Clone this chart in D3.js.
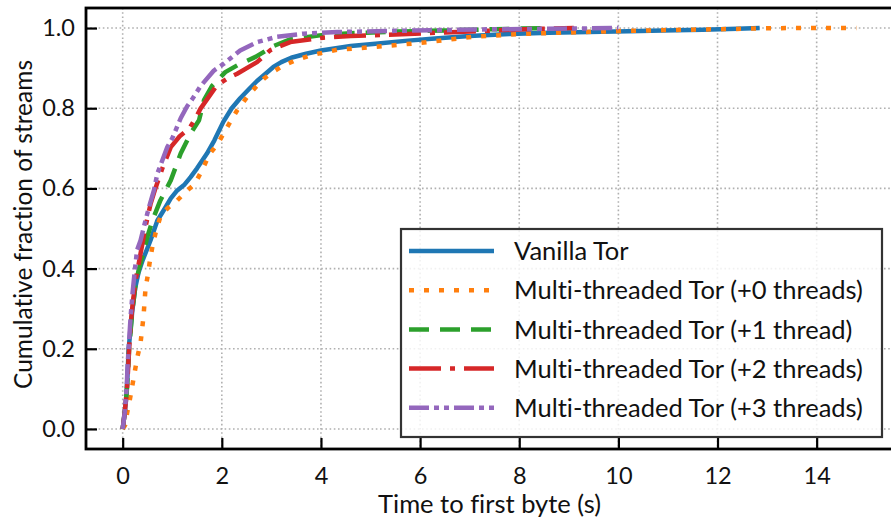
<!DOCTYPE html>
<html>
<head>
<meta charset="utf-8">
<script src="https://cdn.jsdelivr.net/npm/d3@7.8.5/dist/d3.min.js"></script>
<style>
    body { margin: 0; background: #fff; }
    svg text {
        font-family: "Lato", "Noto Sans", sans-serif;
        fill: #111;
        font-variant-ligatures: none;
        font-feature-settings: "liga" 0, "clig" 0;
    }
</style>
</head>
<body>
<div id="chart"></div>
<script>
// Values, [time (s), cumulative fraction]
const vanillaTor = [
    [0, 0], [0.04, 0.04], [0.075, 0.08], [0.1, 0.14], [0.12, 0.2], [0.16, 0.25], [0.19, 0.29],
    [0.25, 0.35], [0.32, 0.39], [0.4, 0.42], [0.48, 0.445], [0.56, 0.47], [0.7, 0.52],
    [0.85, 0.55], [0.97, 0.575], [1.1, 0.595], [1.25, 0.61], [1.37, 0.628], [1.5, 0.65],
    [1.7, 0.687], [1.85, 0.72], [2.03, 0.766], [2.2, 0.8], [2.37, 0.825], [2.55, 0.848],
    [2.71, 0.868], [2.9, 0.888], [3.04, 0.903], [3.2, 0.915], [3.4, 0.926], [3.7, 0.936],
    [4.0, 0.944], [4.6, 0.955], [5.1, 0.961], [5.7, 0.968], [6.3, 0.974], [7.0, 0.98],
    [7.8, 0.985], [8.6, 0.988], [9.4, 0.99], [10.2, 0.992], [10.9, 0.994], [11.7, 0.996],
    [12.4, 0.998], [12.85, 1.0]
];
const mtTor0 = [
    [0, 0], [0.05, 0.01], [0.09, 0.04], [0.14, 0.07], [0.19, 0.105], [0.24, 0.14], [0.29, 0.176],
    [0.36, 0.214], [0.42, 0.28], [0.46, 0.35], [0.51, 0.386], [0.55, 0.42], [0.6, 0.455],
    [0.66, 0.487], [0.76, 0.529], [0.9, 0.55], [1.1, 0.57], [1.3, 0.595], [1.45, 0.61],
    [1.6, 0.645], [1.75, 0.685], [1.91, 0.71], [2.05, 0.74], [2.17, 0.766], [2.31, 0.795],
    [2.51, 0.828], [2.7, 0.855], [2.85, 0.874], [3.05, 0.892], [3.25, 0.907], [3.5, 0.92],
    [3.79, 0.932], [4.33, 0.946], [5.1, 0.953], [6.0, 0.963], [7.05, 0.978], [8.0, 0.985],
    [9.0, 0.989], [9.9, 0.992], [11.0, 0.995], [12.0, 0.997], [12.85, 0.999], [13.5, 1.0],
    [14.8, 1.0]
];
const mtTor1 = [
    [0, 0], [0.04, 0.04], [0.08, 0.09], [0.11, 0.15], [0.13, 0.2], [0.17, 0.26], [0.2, 0.3],
    [0.26, 0.36], [0.33, 0.4], [0.42, 0.44], [0.5, 0.48], [0.6, 0.52], [0.76, 0.57],
    [0.97, 0.62], [1.17, 0.687], [1.37, 0.737], [1.54, 0.77], [1.64, 0.82], [1.8, 0.855],
    [2.07, 0.89], [2.31, 0.907], [2.68, 0.928], [3.04, 0.955], [3.38, 0.972], [4.05, 0.983],
    [4.6, 0.987], [5.5, 0.991], [6.5, 0.994], [7.5, 0.997], [8.5, 1.0]
];
const mtTor2 = [
    [0, 0], [0.04, 0.04], [0.08, 0.09], [0.11, 0.15], [0.13, 0.2], [0.16, 0.26], [0.2, 0.31],
    [0.26, 0.37], [0.36, 0.437], [0.46, 0.504], [0.56, 0.56], [0.66, 0.6], [0.8, 0.65],
    [0.97, 0.703], [1.15, 0.73], [1.34, 0.749], [1.47, 0.775], [1.57, 0.799], [1.9, 0.857],
    [2.11, 0.874], [2.31, 0.886], [2.71, 0.915], [2.98, 0.945], [3.38, 0.965], [4.05, 0.976],
    [4.6, 0.98], [5.5, 0.984], [6.5, 0.989], [7.5, 0.994], [8.3, 0.998], [9.1, 1.0]
];
const mtTor3 = [
    [0, 0], [0.04, 0.04], [0.08, 0.1], [0.1, 0.16], [0.13, 0.22], [0.16, 0.28], [0.2, 0.34],
    [0.24, 0.39], [0.29, 0.446], [0.36, 0.47], [0.45, 0.515], [0.53, 0.553], [0.63, 0.595],
    [0.7, 0.637], [0.9, 0.703], [1.0, 0.725], [1.17, 0.775], [1.3, 0.805], [1.4, 0.822],
    [1.57, 0.855], [1.84, 0.894], [2.04, 0.911], [2.37, 0.944], [2.71, 0.965], [3.11, 0.978],
    [3.65, 0.986], [4.33, 0.99], [5.5, 0.993], [6.5, 0.995], [7.5, 0.997], [8.5, 0.998],
    [9.3, 0.999], [10.0, 1.0]
];

const seriesNames = [
    "Vanilla Tor",
    "Multi-threaded Tor (+0 threads)",
    "Multi-threaded Tor (+1 thread)",
    "Multi-threaded Tor (+2 threads)",
    "Multi-threaded Tor (+3 threads)"
];
const xTicks = [0, 2, 4, 6, 8, 10, 12, 14];
const yTicks = [0, 0.2, 0.4, 0.6, 0.8, 1.0];

// Styles for each series (same order as the names)
const seriesData = [vanillaTor, mtTor0, mtTor1, mtTor2, mtTor3];
const colors = ["#1f77b4", "#ff7f0e", "#2ca02c", "#d62728", "#9467bd"];
const dashes = [null, "5,10", "20,11", "32,9,5,9", "20,5,5,5,5,5"];

const width = 891, height = 524;
const plot = { left: 86, right: 893, top: 8, bottom: 449 };

const svg = d3.select("#chart").append("svg")
    .attr("width", width)
    .attr("height", height);

const x = d3.scaleLinear().domain([-0.74, 15.54]).range([plot.left, plot.right]);
const y = d3.scaleLinear().domain([-0.05, 1.05]).range([plot.bottom, plot.top]);

svg.append("clipPath").attr("id", "plot-clip")
    .append("rect")
    .attr("x", plot.left).attr("y", plot.top)
    .attr("width", plot.right - plot.left).attr("height", plot.bottom - plot.top);

// Dotted grid
const grid = svg.append("g").attr("class", "grid");
grid.selectAll(".gx").data(xTicks).enter().append("line")
    .attr("x1", d => x(d)).attr("x2", d => x(d))
    .attr("y1", plot.top).attr("y2", plot.bottom)
    .attr("stroke", "#b0b0b0").attr("stroke-width", 1.6).attr("stroke-dasharray", "1.6,2.6");
grid.selectAll(".gy").data(yTicks).enter().append("line")
    .attr("x1", plot.left).attr("x2", plot.right)
    .attr("y1", d => y(d)).attr("y2", d => y(d))
    .attr("stroke", "#b0b0b0").attr("stroke-width", 1.6).attr("stroke-dasharray", "1.6,2.6");

// Curves
const line = d3.line().x(d => x(d[0])).y(d => y(d[1]));
const curves = svg.append("g").attr("clip-path", "url(#plot-clip)");
seriesData.forEach((data, i) => {
    curves.append("path")
        .datum(data)
        .attr("d", line)
        .attr("fill", "none")
        .attr("stroke", colors[i])
        .attr("stroke-width", 4.5)
        .attr("stroke-dasharray", dashes[i])
        .attr("stroke-linejoin", "round");
});

// Axes, ticks point inward
const xAxis = svg.append("g")
    .attr("transform", "translate(0," + plot.bottom + ")")
    .call(d3.axisBottom(x).tickValues(xTicks).tickSizeInner(-11).tickSizeOuter(0).tickPadding(18));
const yAxis = svg.append("g")
    .attr("transform", "translate(" + plot.left + ",0)")
    .call(d3.axisLeft(y).tickValues(yTicks).tickFormat(d3.format(".1f"))
        .tickSizeInner(-11).tickSizeOuter(0).tickPadding(11));

[xAxis, yAxis].forEach(ax => {
    ax.select(".domain").remove();
    ax.selectAll(".tick line").attr("stroke", "#000").attr("stroke-width", 2.2);
    ax.selectAll(".tick text").attr("font-size", 23.5).attr("font-family", "Lato, sans-serif");
});

// Spines (right one sits just past the image edge)
svg.append("rect")
    .attr("x", plot.left).attr("y", plot.top)
    .attr("width", plot.right - plot.left).attr("height", plot.bottom - plot.top)
    .attr("fill", "none").attr("stroke", "#000").attr("stroke-width", 2.8);

// Axis titles
svg.append("text")
    .attr("x", (plot.left + plot.right) / 2)
    .attr("y", 513)
    .attr("text-anchor", "middle")
    .attr("font-size", 25.5)
    .text("Time to first byte (s)");
svg.append("text")
    .attr("transform", "translate(32," + ((plot.top + plot.bottom) / 2 - 4) + ") rotate(-90)")
    .attr("text-anchor", "middle")
    .attr("font-size", 24.5)
    .text("Cumulative fraction of streams");

// Legend
const legend = svg.append("g");
legend.append("rect")
    .attr("x", 401).attr("y", 229)
    .attr("width", 481).attr("height", 208)
    .attr("fill", "#fff").attr("fill-opacity", 0.82)
    .attr("stroke", "#333").attr("stroke-width", 2.2);

seriesNames.forEach((name, i) => {
    const ly = 251 + i * 39.2;
    legend.append("line")
        .attr("x1", 409).attr("x2", 494)
        .attr("y1", ly).attr("y2", ly)
        .attr("stroke", colors[i])
        .attr("stroke-width", 4.5)
        .attr("stroke-dasharray", dashes[i]);
    legend.append("text")
        .attr("x", 514).attr("y", ly)
        .attr("dy", "0.36em")
        .attr("font-size", 25.5)
        .text(name);
});
</script>
</body>
</html>
